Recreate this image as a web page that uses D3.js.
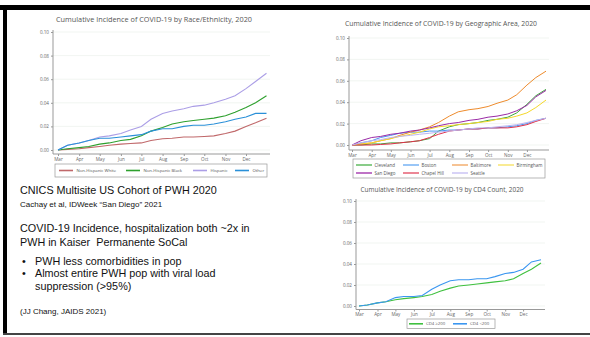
<!DOCTYPE html>
<html><head><meta charset="utf-8">
<script src="https://cdn.jsdelivr.net/npm/d3@7"></script>
<style>
html,body{margin:0;padding:0;background:#fff;}
svg{display:block;}
</style></head>
<body>
<svg id="c" width="590" height="337"></svg>
<script>
// ---------- DATA ----------
const dates = ["2020-03-01","2020-03-15","2020-04-01","2020-04-15","2020-05-01","2020-05-15","2020-06-01","2020-06-15","2020-07-01","2020-07-15","2020-08-01","2020-08-15","2020-09-01","2020-09-15","2020-10-01","2020-10-15","2020-11-01","2020-11-15","2020-12-01","2020-12-15","2020-12-31"];
const monthTicks = ["2020-03-01","2020-04-01","2020-05-01","2020-06-01","2020-07-01","2020-08-01","2020-09-01","2020-10-01","2020-11-01","2020-12-01"];
const yTicks = [0, 0.02, 0.04, 0.06, 0.08, 0.10];

// Chart 1: Race/Ethnicity
const raceNames = ["Non-Hispanic White","Non-Hispanic Black","Hispanic","Other"];
const raceWhite = [0,0.0005,0.001,0.002,0.003,0.004,0.005,0.0055,0.006,0.008,0.0095,0.010,0.011,0.011,0.0115,0.012,0.014,0.016,0.020,0.023,0.027];
const raceBlack = [0,0.001,0.002,0.003,0.005,0.006,0.008,0.009,0.012,0.016,0.019,0.022,0.024,0.025,0.026,0.027,0.029,0.032,0.036,0.040,0.046];
const raceHispanic = [0,0.004,0.006,0.008,0.011,0.012,0.014,0.017,0.020,0.026,0.031,0.033,0.035,0.037,0.038,0.040,0.043,0.046,0.052,0.058,0.065];
const raceOther = [0,0.004,0.006,0.008,0.010,0.010,0.011,0.012,0.013,0.016,0.018,0.018,0.020,0.021,0.021,0.022,0.024,0.026,0.028,0.031,0.031];

// Chart 2: Geographic area
const geoNames = ["Cleveland","Boston","Baltimore","Birmingham","San Diego","Chapel Hill","Seattle"];
const geoCleveland = [0,0,0.001,0.001,0.002,0.002,0.003,0.004,0.006,0.013,0.017,0.019,0.020,0.021,0.023,0.024,0.026,0.030,0.038,0.046,0.052];
const geoBoston = [0,0.002,0.004,0.007,0.009,0.011,0.012,0.012,0.013,0.013,0.014,0.014,0.015,0.015,0.016,0.016,0.017,0.018,0.020,0.023,0.025];
const geoBaltimore = [0,0.001,0.002,0.004,0.006,0.009,0.012,0.014,0.017,0.021,0.027,0.031,0.033,0.034,0.036,0.039,0.042,0.047,0.056,0.063,0.069];
const geoBirmingham = [0,0.001,0.002,0.004,0.006,0.008,0.010,0.012,0.015,0.017,0.018,0.019,0.020,0.021,0.022,0.024,0.025,0.027,0.030,0.035,0.042];
const geoSanDiego = [0,0.004,0.007,0.008,0.010,0.011,0.013,0.014,0.016,0.018,0.020,0.021,0.023,0.024,0.026,0.027,0.029,0.032,0.037,0.045,0.051];
const geoChapelHill = [0,0,0,0.0005,0.001,0.002,0.003,0.004,0.007,0.010,0.013,0.014,0.015,0.015,0.016,0.016,0.016,0.017,0.019,0.022,0.025];
const geoSeattle = [0,0.002,0.004,0.005,0.007,0.008,0.009,0.010,0.011,0.012,0.013,0.014,0.015,0.016,0.016,0.017,0.018,0.019,0.021,0.023,0.025];

// Chart 3: CD4 count
const cd4Names = ["CD4 \u2265200","CD4 <200"];
const cd4High = [0,0.001,0.003,0.004,0.006,0.007,0.008,0.009,0.011,0.014,0.017,0.019,0.020,0.021,0.022,0.023,0.024,0.026,0.031,0.035,0.041];
const cd4Low = [0,0.001,0.003,0.004,0.008,0.009,0.009,0.010,0.016,0.020,0.024,0.025,0.025,0.026,0.026,0.028,0.031,0.032,0.035,0.042,0.044];

// ---------- DRAW ----------
const svg = d3.select("#c");
const parse = d3.timeParse("%Y-%m-%d");
const D = dates.map(parse);
const MT = monthTicks.map(parse);

// slide frame
svg.append("rect").attr("x",0).attr("y",5).attr("width",590).attr("height",5).attr("fill","#000");
svg.append("rect").attr("x",3).attr("y",5).attr("width",4).attr("height",330).attr("fill","#000");
svg.append("rect").attr("x",3).attr("y",333).attr("width",587).attr("height",2).attr("fill","#444");

function chart(cfg){
  const g = svg.append("g");
  const x = d3.scaleTime().domain([D[0], D[D.length-1]]).range([cfg.x0, cfg.x1]);
  const y = d3.scaleLinear().domain([0,0.10]).range([cfg.y0, cfg.y1]);
  g.append("text").attr("x",cfg.tx).attr("y",cfg.ty).attr("text-anchor","middle")
    .attr("font-family","Open Sans, sans-serif").attr("font-size",cfg.tfs).attr("fill","#555")
    .attr("textLength",cfg.tlen).attr("lengthAdjust","spacingAndGlyphs").text(cfg.title);
  g.selectAll(".grid").data(yTicks).enter().append("line")
    .attr("x1",cfg.ax).attr("x2",cfg.xr).attr("y1",d=>y(d)).attr("y2",d=>y(d))
    .attr("stroke","#edf2ee").attr("stroke-width",0.8);
  const ya = g.append("g").attr("transform",`translate(${cfg.ax},0)`)
    .call(d3.axisLeft(y).tickValues(yTicks).tickFormat(d3.format(".2f")).tickSize(2).tickSizeOuter(0));
  ya.select(".domain").attr("stroke","#999").attr("d",`M0,${cfg.y1-2}V${cfg.axy}`);
  ya.selectAll(".tick line").attr("stroke","#999");
  ya.selectAll("text").attr("font-family","Open Sans, sans-serif").attr("font-size",4.6).attr("fill","#666").attr("x",-4);
  const xa = g.append("g").attr("transform",`translate(0,${cfg.axy})`)
    .call(d3.axisBottom(x).tickValues(MT).tickFormat(d3.timeFormat("%b")).tickSize(2).tickSizeOuter(0));
  xa.select(".domain").attr("stroke","#999").attr("d",`M${cfg.ax},0H${cfg.xr}`);
  xa.selectAll(".tick line").attr("stroke","#999");
  xa.selectAll("text").attr("font-family","Open Sans, sans-serif").attr("font-size",4.6).attr("fill","#666").attr("y",3.5);
  const line = d3.line().x((d,i)=>x(D[i])).y(d=>y(d)).curve(d3.curveLinear);
  cfg.series.forEach((s,i)=>{
    g.append("path").attr("d",line(s)).attr("fill","none").attr("stroke",cfg.colors[i]).attr("stroke-width",cfg.lw);
  });
  const L = cfg.legend;
  g.append("rect").attr("x",L.x).attr("y",L.y).attr("width",L.w).attr("height",L.h)
    .attr("fill","#fff").attr("stroke","#999").attr("stroke-width",0.7);
  cfg.names.forEach((n,i)=>{
    const col = i % L.cols, row = Math.floor(i / L.cols);
    const lx = L.colX[col], ly = L.y + L.rowY0 + row*L.rowH;
    g.append("line").attr("x1",lx).attr("x2",lx+L.lineW).attr("y1",ly).attr("y2",ly)
      .attr("stroke",cfg.legColors[i]).attr("stroke-width",1.6);
    g.append("text").attr("x",lx+L.lineW+L.gap).attr("y",ly+1.5)
      .attr("font-family","Open Sans, sans-serif").attr("font-size",L.fs).attr("fill","#555").text(n);
  });
}

chart({
  title:"Cumulative Incidence of COVID-19 by Race/Ethnicity, 2020", tx:154, ty:21.5, tfs:7, tlen:196,
  x0:58, x1:266.5, y0:150, y1:32, ax:53, axy:154, xr:270, lw:1.1,
  series:[raceWhite,raceBlack,raceHispanic,raceOther], names:raceNames,
  colors:["#c0686a","#2ea02e","#ab9ee6","#2a90d8"],
  legColors:["#c0686a","#2ea02e","#ab9ee6","#2a90d8"],
  legend:{x:55,y:164,w:212,h:13,cols:4,colX:[59,126,193,235],rowY0:6.5,rowH:8,lineW:14,gap:3.5,fs:4.3}
});

chart({
  title:"Cumulative Incidence of COVID-19 by Geographic Area, 2020", tx:441, ty:26, tfs:7, tlen:192,
  x0:352, x1:546, y0:145, y1:38, ax:349, axy:150, xr:549, lw:1,
  series:[geoCleveland,geoBoston,geoBaltimore,geoBirmingham,geoSanDiego,geoChapelHill,geoSeattle], names:geoNames,
  colors:["#3fa63f","#4a96f0","#ee8b2c","#f5d829","#9a2aa6","#e0304a","#bdb5f0"],
  legColors:["#6cc06c","#80b8f5","#f4b57a","#f8e67a","#b050b8","#e86a7c","#cfc9f5"],
  legend:{x:353,y:159,w:192,h:19,cols:4,colX:[356,403,452,498],rowY0:6,rowH:8,lineW:16,gap:2.5,fs:4.5}
});

chart({
  title:"Cumulative Incidence of COVID-19 by CD4 Count, 2020", tx:442, ty:192, tfs:6.8, tlen:163,
  x0:359, x1:541, y0:306, y1:201, ax:356, axy:309.5, xr:545, lw:1.1,
  series:[cd4High,cd4Low], names:cd4Names,
  colors:["#3fc03f","#3a96f0"],
  legColors:["#3fc03f","#3a96f0"],
  legend:{x:407,y:319,w:88,h:9.5,cols:2,colX:[409,453],rowY0:4.8,rowH:8,lineW:14,gap:3,fs:4.3}
});

// ---------- TEXT BLOCK ----------
const tb = svg.append("g").attr("font-family","Liberation Sans, Arial, sans-serif").attr("fill","#111");
const lines = [
  {t:"CNICS Multisite US Cohort of PWH 2020", x:20, y:194, s:10.8},
  {t:"Cachay et al, IDWeek \u201cSan Diego\u201d 2021", x:20, y:207, s:8},
  {t:"COVID-19 Incidence, hospitalization both ~2x in", x:20, y:232, s:10.8},
  {t:"PWH in Kaiser  Permanente SoCal", x:20, y:246, s:10.8},
  {t:"\u2022", x:22, y:264.5, s:10.8},
  {t:"PWH less comorbidities in pop", x:35, y:264.5, s:10.8},
  {t:"\u2022", x:22, y:277, s:10.8},
  {t:"Almost entire PWH pop with viral load", x:35, y:277, s:10.8},
  {t:"suppression (>95%)", x:35, y:289.5, s:10.8},
  {t:"(JJ Chang, JAIDS 2021)", x:20, y:313.5, s:8}
];
lines.forEach(l=>{
  tb.append("text").attr("x",l.x).attr("y",l.y).attr("font-size",l.s).style("white-space","pre").text(l.t);
});
</script>
</body></html>
